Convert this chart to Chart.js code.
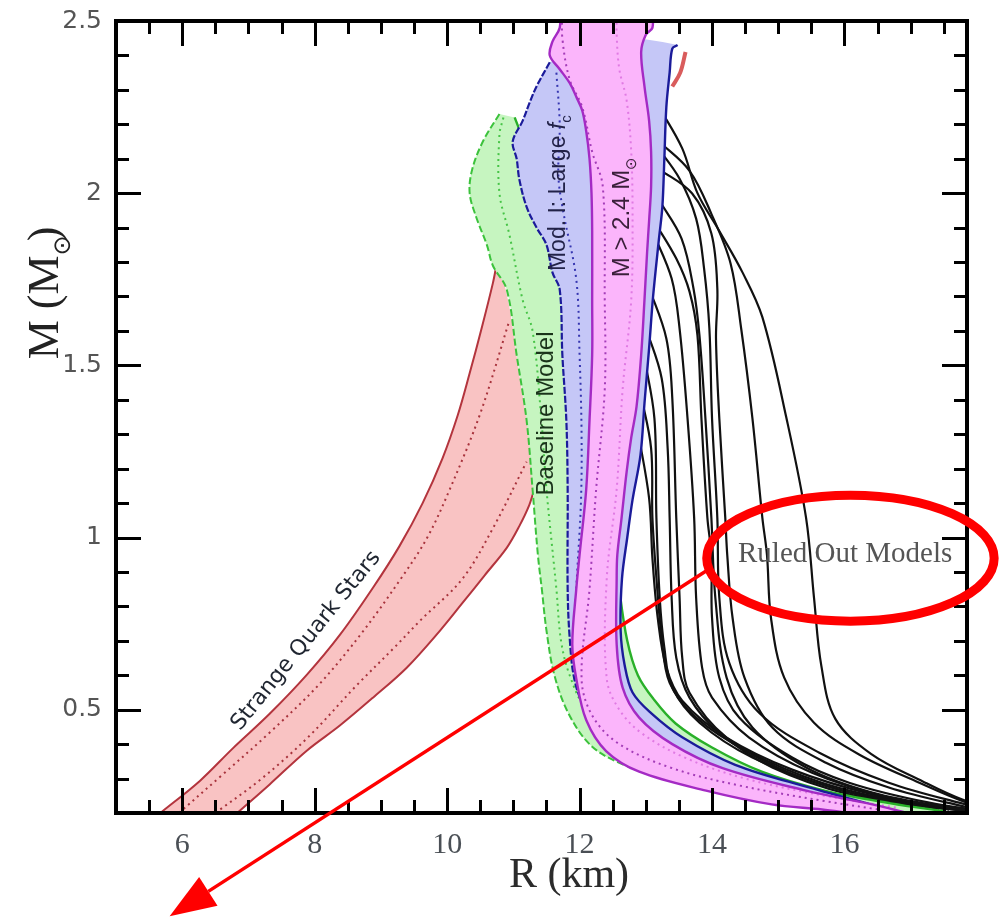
<!DOCTYPE html>
<html>
<head>
<meta charset="utf-8">
<script src="https://cdn.jsdelivr.net/npm/chart.js@4.4.1/dist/chart.umd.min.js"></script>
<style>
  html, body { margin: 0; padding: 0; background: #fff; }
  canvas { display: block; }
</style>
</head>
<body>
<canvas id="mr" width="1001" height="917"></canvas>
<script>
// ============================================
// AXES
// ============================================
const rRange = [5, 17.85];
const mRange = [0.2, 2.5];
const rTicks = [6, 8, 10, 12, 14, 16];
const mTicks = [0.5, 1, 1.5, 2, 2.5];

// ============================================
// MASS-RADIUS BANDS  [R (km), M (Msun)]
// ============================================
// strange quark stars
const quarkUpper = [[5.67,0.2],[6.27,0.294],[6.76,0.387],[7.32,0.488],[7.88,0.601],[8.38,0.717],[8.88,0.854],[9.28,0.975],[9.63,1.10],[9.93,1.23],[10.16,1.355],[10.34,1.477],[10.52,1.607],[10.69,1.738],[10.75,1.796]];
const quarkCap = [[10.75,1.796],[10.92,1.69],[11.1,1.46],[11.26,1.27],[11.32,1.143]];
const quarkLower = [[6.83,0.2],[7.32,0.283],[7.88,0.381],[8.38,0.454],[8.88,0.535],[9.39,0.622],[9.89,0.729],[10.22,0.807],[10.57,0.891],[10.9,0.97],[11.09,1.033],[11.24,1.094],[11.32,1.143]];
const quarkMid1 = [[5.95,0.2],[6.6,0.31],[7.3,0.43],[8.05,0.57],[8.7,0.72],[9.3,0.88],[9.7,1.0],[10.04,1.14],[10.5,1.36],[10.94,1.63]];
const quarkMid2 = [[6.5,0.2],[7.2,0.30],[7.9,0.42],[8.63,0.57],[9.2,0.68],[9.6,0.76],[10.23,0.88],[10.7,1.03],[11.2,1.22]];

// baseline model
const baseLeft = [[10.79,2.23],[10.54,2.15],[10.38,2.07],[10.34,2.0],[10.44,1.93],[10.6,1.85],[10.69,1.79],[10.9,1.72],[11.05,1.53],[11.2,1.34],[11.29,1.14],[11.37,0.95],[11.43,0.85],[11.5,0.73],[11.62,0.60],[11.83,0.49],[12.15,0.40],[12.55,0.35],[13.3,0.30],[14.5,0.26],[15.8,0.23],[16.8,0.2]];
const baseRight = [[11.02,2.22],[11.15,2.15],[11.3,2.0],[11.6,1.8],[11.9,1.6],[12.2,1.4],[12.45,1.1],[12.6,0.85],[12.72,0.70],[12.88,0.6],[13.12,0.53],[13.45,0.46],[14.0,0.39],[14.75,0.32],[15.7,0.265],[16.7,0.228],[17.5,0.205]];
const baseMid = [[10.85,2.22],[10.79,2.17],[10.79,2.0],[10.94,1.88],[11.14,1.69],[11.29,1.6],[11.42,1.35],[11.5,1.14],[11.65,0.85],[11.72,0.7],[11.85,0.6],[12.1,0.5],[12.6,0.41],[13.4,0.33],[14.5,0.27],[15.7,0.23],[16.6,0.205]];

// model I
const modLeft = [[11.55,2.38],[11.35,2.31],[11.24,2.26],[11.14,2.21],[10.99,2.15],[11.05,2.10],[11.09,2.04],[11.2,1.96],[11.35,1.90],[11.5,1.85],[11.59,1.77],[11.7,1.72],[11.74,1.53],[11.80,1.34],[11.82,1.14],[11.82,0.85],[11.85,0.71],[11.92,0.59],[12.07,0.51],[12.45,0.42],[13.05,0.35],[14.11,0.27],[15.32,0.23],[16.37,0.2]];
const modRight = [[13.48,2.43],[13.4,2.42],[13.36,2.35],[13.31,2.25],[13.28,2.1],[13.25,1.96],[13.2,1.87],[13.11,1.70],[13.05,1.55],[12.98,1.39],[12.92,1.24],[12.8,1.11],[12.72,1.0],[12.64,0.88],[12.62,0.73],[12.68,0.63],[12.8,0.55],[13.08,0.49],[13.55,0.42],[14.35,0.34],[15.45,0.275],[16.5,0.22],[16.9,0.2]];
const modTop = [[12.5,2.46]];
const modMid = [[11.65,2.35],[11.7,2.2],[11.68,2.05],[11.75,1.95],[11.95,1.75],[12.0,1.53],[12.03,1.3],[12.02,1.1],[11.95,0.85],[11.92,0.7],[11.98,0.6],[12.2,0.5],[12.7,0.41],[13.5,0.34],[14.6,0.28],[15.8,0.235],[16.6,0.205]];

// M > 2.4 Msun
const massLeft = [[11.70,2.53],[11.70,2.48],[11.59,2.44],[11.55,2.40],[11.70,2.36],[11.85,2.32],[11.95,2.28],[12.04,2.24],[12.10,2.18],[12.15,2.1],[12.18,2.0],[12.19,1.89],[12.19,1.69],[12.19,1.53],[12.15,1.34],[12.1,1.14],[12.0,0.95],[11.95,0.85],[11.89,0.69],[11.95,0.59],[12.1,0.47],[12.4,0.38],[12.9,0.32],[13.91,0.265],[14.9,0.225],[15.66,0.21],[16.07,0.2]];
const massRight = [[13.1,2.53],[13.1,2.48],[13.0,2.46],[12.93,2.41],[12.98,2.31],[13.05,2.21],[13.08,2.12],[13.08,2.02],[13.05,1.92],[13.02,1.83],[12.98,1.69],[12.93,1.53],[12.86,1.38],[12.78,1.29],[12.71,1.19],[12.63,1.05],[12.57,0.95],[12.56,0.88],[12.56,0.69],[12.65,0.564],[12.9,0.477],[13.4,0.40],[14.16,0.33],[15.42,0.265],[16.42,0.225],[16.95,0.2]];
const massMid1 = [[11.74,2.53],[11.74,2.45],[11.85,2.33],[12.04,2.25],[12.19,2.12],[12.35,2.02],[12.38,1.69],[12.38,1.43],[12.25,1.14],[12.15,0.85],[12.03,0.59],[12.2,0.48],[12.6,0.40],[13.4,0.33],[14.41,0.28],[15.66,0.236],[16.52,0.21]];
const massMid2 = [[12.56,2.53],[12.56,2.46],[12.6,2.36],[12.71,2.27],[12.78,2.12],[12.8,1.93],[12.78,1.69],[12.65,1.43],[12.56,1.14],[12.41,0.88],[12.41,0.59],[12.6,0.50],[12.95,0.43],[13.6,0.36],[14.5,0.30],[15.7,0.25],[16.8,0.215]];
const redTip = [[13.6,2.41],[13.52,2.35],[13.4,2.31]];

// ruled-out equations of state
const ruledOut = [
  [[13.2,2.25],[13.55,2.13],[13.78,2.0],[14.11,1.89],[14.46,1.77],[14.76,1.64],[15.12,1.35],[15.42,1.057],[15.54,0.825],[15.65,0.628],[15.86,0.474],[16.4,0.372],[17.19,0.291],[17.78,0.239],[18.33,0.21]],
  [[13.2,2.15],[13.66,2.065],[13.99,1.94],[14.28,1.796],[14.44,1.607],[14.61,1.346],[14.76,1.057],[14.83,0.949],[14.89,0.767],[15.09,0.593],[15.54,0.462],[16.22,0.37],[17.13,0.288],[17.85,0.23],[18.33,0.207]],
  [[13.2,2.07],[13.7,1.999],[13.99,1.883],[14.08,1.723],[14.06,1.578],[14.11,1.346],[14.2,1.057],[14.23,0.949],[14.31,0.767],[14.49,0.593],[14.91,0.448],[15.72,0.346],[16.67,0.274],[17.73,0.222],[18.33,0.2]],
  [[13.2,1.98],[13.54,1.868],[13.72,1.723],[13.81,1.587],[13.9,1.346],[13.99,1.057],[14.05,0.825],[14.22,0.593],[14.61,0.448],[15.42,0.332],[16.42,0.259],[17.58,0.216],[18.33,0.2]],
  [[13.12,1.92],[13.46,1.81],[13.66,1.714],[13.78,1.587],[13.84,1.346],[13.93,1.057],[13.99,0.949],[14.0,0.767],[14.11,0.593],[14.41,0.477],[15.21,0.361],[16.07,0.288],[17.28,0.23],[18.33,0.2]],
  [[13.1,1.89],[13.39,1.752],[13.51,1.607],[13.63,1.346],[13.73,1.057],[13.76,0.825],[13.85,0.622],[14.0,0.535],[14.56,0.419],[15.51,0.317],[16.67,0.245],[17.73,0.21]],
  [[13.04,1.73],[13.31,1.578],[13.4,1.404],[13.46,1.057],[13.51,0.825],[13.55,0.651],[13.66,0.549],[14.22,0.419],[15.17,0.317],[16.37,0.245],[17.58,0.21]],
  [[13.0,1.61],[13.24,1.462],[13.33,1.259],[13.36,1.057],[13.39,0.825],[13.46,0.651],[13.66,0.535],[14.11,0.433],[14.91,0.332],[16.07,0.254],[17.43,0.21]],
  [[12.96,1.54],[13.13,1.346],[13.16,1.057],[13.21,0.825],[13.28,0.68],[13.4,0.564],[13.81,0.462],[14.61,0.361],[15.81,0.274],[17.13,0.222],[18.2,0.2]],
  [[12.92,1.42],[13.08,1.259],[13.1,1.057],[13.16,0.883],[13.24,0.709],[13.36,0.578],[13.76,0.477],[14.52,0.381],[15.66,0.288],[16.93,0.23],[18.1,0.2]],
  [[12.88,1.31],[13.05,1.114],[13.1,0.94],[13.18,0.767],[13.31,0.622],[13.55,0.526],[14.22,0.419],[15.21,0.326],[16.42,0.254],[17.58,0.213],[18.3,0.2]],
  [[13.15,2.14],[13.51,2.042],[13.76,1.926],[13.88,1.781],[13.96,1.607],[14.0,1.346],[14.08,1.057],[14.11,0.825],[14.26,0.636],[14.71,0.491],[15.62,0.375],[16.67,0.288],[17.73,0.23],[18.33,0.205]]
];

// annotation anchors, in data units
const quarkLabelAt = [7.87, 0.70];
const baseLabelAt = [11.5, 1.36];
const modLabelAt = [11.69, 2.0];
const massLabelAt = [12.65, 1.93];
const ruledLabelAt = [16.01, 0.95];
const ringCenter = [16.09, 0.94];
const ringRadius = [2.17, 0.183];
const arrowFrom = [13.91, 0.903];
const arrowTo = [5.81, -0.1];

// ============================================
// DATASETS
// ============================================
const toPts = arr => arr.map(([r, m]) => ({ x: r, y: m }));

function lineSet(pts, color, width, dash, order) {
    return {
        data: toPts(pts), showLine: true, borderColor: color, borderWidth: width,
        borderDash: dash || [], pointRadius: 0, fill: false, tension: 0.35, order
    };
}

function areaSet(pts, color, order) {
    return {
        data: toPts(pts), showLine: true, borderWidth: 0, borderColor: 'rgba(0,0,0,0)',
        backgroundColor: color, pointRadius: 0, fill: 'shape', tension: 0.35, order
    };
}

const rev = a => a.slice().reverse();

const datasets = [
    ...ruledOut.map(c => lineSet(c, '#111111', 2.2, null, 100)),

    areaSet([...quarkUpper, ...quarkCap.slice(1), ...rev(quarkLower).slice(1)], '#f9c3c3', 90),
    lineSet(quarkUpper, '#b3343d', 2, null, 89),
    lineSet(quarkLower, '#b3343d', 2, null, 89),
    lineSet(quarkMid1, '#a8333c', 2, [2, 4], 89),
    lineSet(quarkMid2, '#a8333c', 2, [2, 4], 89),

    areaSet([...baseLeft, ...rev(baseRight)], '#c6f5c0', 80),
    lineSet(baseLeft, '#3cc23c', 2, [7, 3], 79),
    lineSet(baseRight, '#29b029', 2.4, null, 79),
    lineSet(baseMid, '#47c447', 2, [2, 4], 79),

    areaSet([...modLeft, ...rev(modRight), ...modTop], '#c5c7f7', 70),
    lineSet(modLeft, '#1b1b9a', 2.2, [7, 2], 69),
    lineSet(modRight, '#1b1b9a', 2.4, null, 69),
    lineSet(modMid, '#3535b0', 2, [2, 4], 69),

    areaSet([...massLeft, ...rev(massRight)], '#fbb5fb', 60),
    lineSet(massLeft, '#a42ac4', 2.4, null, 59),
    lineSet(massRight, '#a42ac4', 2.4, null, 59),
    lineSet(massMid1, '#a43cb8', 2, [2, 4], 59),
    lineSet(massMid2, '#e07ae3', 2, [2, 4], 59),
    lineSet(redTip, '#d95c5c', 4, null, 58)
];

// ============================================
// FRAME, LABELS, ANNOTATIONS
// ============================================
function drawRich(ctx, parts, x, y, angle, baseline) {
    ctx.save();
    ctx.translate(x, y);
    ctx.rotate(angle);
    ctx.textBaseline = baseline || 'middle';
    let total = 0;
    parts.forEach(p => {
        ctx.font = p.font;
        p.w = ctx.measureText(p.text).width * (p.adv || 1);
        total += p.w;
    });
    let cx = -total / 2;
    parts.forEach(p => {
        ctx.font = p.font;
        ctx.fillStyle = p.color;
        ctx.fillText(p.text, cx, p.dy || 0);
        cx += p.w;
    });
    ctx.restore();
}

const framePlugin = {
    id: 'frame',
    afterDatasetsDraw(chart) {
        const { ctx, chartArea: a, scales: { x, y } } = chart;
        const px = v => x.getPixelForValue(v);
        const py = v => y.getPixelForValue(v);
        const up = -Math.PI / 2;

        // in-plot labels
        drawRich(ctx, [{ text: 'Strange Quark Stars', font: '22px "DejaVu Sans"', color: '#1f2530' }],
            px(quarkLabelAt[0]), py(quarkLabelAt[1]), -51 * Math.PI / 180);
        drawRich(ctx, [{ text: 'Baseline Model', font: '24px "Liberation Sans"', color: '#1a331a' }],
            px(baseLabelAt[0]), py(baseLabelAt[1]), up);
        drawRich(ctx, [
            { text: 'Mod. I: Large ', font: '23px "Liberation Sans"', color: '#222248' },
            { text: 'f', font: 'italic 23px "Liberation Sans"', color: '#222248' },
            { text: 'c', font: '15px "Liberation Sans"', color: '#222248', dy: 8 }
        ], px(modLabelAt[0]), py(modLabelAt[1]), up);
        drawRich(ctx, [
            { text: 'M > 2.4 M', font: '24px "Liberation Sans"', color: '#3a1f3a' },
            { text: '\u2299', font: '15px "DejaVu Sans"', color: '#3a1f3a', dy: 9 }
        ], px(massLabelAt[0]), py(massLabelAt[1]), up);
        drawRich(ctx, [{ text: 'Ruled Out Models', font: '29px "Liberation Serif"', color: '#555555' }],
            px(ruledLabelAt[0]), py(ruledLabelAt[1]), 0);

        // frame with inward ticks on all four sides
        ctx.save();
        ctx.strokeStyle = '#000';
        ctx.lineCap = 'butt';
        ctx.lineWidth = 3;
        ctx.beginPath();
        for (let i = Math.ceil(rRange[0] * 2); i / 2 < rRange[1]; i++) {
            const r = i / 2;
            const len = (r % 2 === 0) ? 25 : 13;
            const xx = Math.round(px(r)) + 0.5;
            ctx.moveTo(xx, a.bottom); ctx.lineTo(xx, a.bottom - len);
            ctx.moveTo(xx, a.top); ctx.lineTo(xx, a.top + len);
        }
        for (let i = 3; i < 25; i++) {
            const len = (i % 5 === 0) ? 25 : 13;
            const yy = Math.round(py(i / 10)) + 0.5;
            ctx.moveTo(a.left, yy); ctx.lineTo(a.left + len, yy);
            ctx.moveTo(a.right, yy); ctx.lineTo(a.right - len, yy);
        }
        ctx.stroke();
        ctx.lineWidth = 4;
        ctx.strokeRect(a.left, a.top, a.right - a.left, a.bottom - a.top);
        ctx.restore();

        // axis titles
        ctx.save();
        ctx.fillStyle = '#2b2b2b';
        ctx.font = '42px "Liberation Serif"';
        ctx.textAlign = 'center';
        ctx.textBaseline = 'middle';
        ctx.fillText('R (km)', 569, 876);
        ctx.restore();
        drawRich(ctx, [
            { text: 'M (M', font: '44px "Liberation Serif"', color: '#222' },
            { text: '\u2299', font: '24px "DejaVu Sans"', color: '#222', dy: 12, adv: 0.7 },
            { text: ')', font: '44px "Liberation Serif"', color: '#222' }
        ], 58, 293, up, 'alphabetic');
    },
    afterDraw(chart) {
        const { ctx, scales: { x, y } } = chart;
        const px = v => x.getPixelForValue(v);
        const py = v => y.getPixelForValue(v);
        ctx.save();
        ctx.strokeStyle = '#ff0000';
        ctx.fillStyle = '#ff0000';

        // ring round the ruled-out label
        const cx = px(ringCenter[0]), cy = py(ringCenter[1]);
        const rx = px(ringCenter[0] + ringRadius[0]) - cx;
        const ry = cy - py(ringCenter[1] + ringRadius[1]);
        ctx.lineWidth = 9;
        ctx.beginPath();
        ctx.ellipse(cx, cy, rx, ry, 0, 0, Math.PI * 2);
        ctx.stroke();

        // arrow pointing off the plot
        const x0 = px(arrowFrom[0]), y0 = py(arrowFrom[1]);
        const x1 = px(arrowTo[0]), y1 = py(arrowTo[1]);
        const ang = Math.atan2(y1 - y0, x1 - x0);
        const head = 46, half = 17;
        const bx = x1 - head * Math.cos(ang), by = y1 - head * Math.sin(ang);
        ctx.lineWidth = 3.5;
        ctx.beginPath();
        ctx.moveTo(x0, y0);
        ctx.lineTo(bx, by);
        ctx.stroke();
        ctx.beginPath();
        ctx.moveTo(x1, y1);
        ctx.lineTo(bx + half * Math.sin(ang), by - half * Math.cos(ang));
        ctx.lineTo(bx - half * Math.sin(ang), by + half * Math.cos(ang));
        ctx.closePath();
        ctx.fill();
        ctx.restore();
    }
};

// ============================================
// CHART
// ============================================
new Chart(document.getElementById('mr'), {
    type: 'scatter',
    data: { datasets },
    options: {
        responsive: false,
        animation: false,
        layout: { padding: { left: 0, right: 34, top: 21, bottom: 0 } },
        plugins: { legend: { display: false }, tooltip: { enabled: false } },
        scales: {
            x: {
                type: 'linear', min: rRange[0], max: rRange[1],
                grid: { display: false }, border: { display: false },
                afterBuildTicks: s => { s.ticks = rTicks.map(v => ({ value: v })); },
                afterFit: s => { s.height = 104; },
                ticks: {
                    font: { family: 'Liberation Serif', size: 30 }, color: '#4a4f55',
                    padding: 6, maxRotation: 0, autoSkip: false, callback: v => String(v)
                }
            },
            y: {
                type: 'linear', min: mRange[0], max: mRange[1],
                grid: { display: false }, border: { display: false },
                afterBuildTicks: s => { s.ticks = mTicks.map(v => ({ value: v })); },
                afterFit: s => { s.width = 116; },
                ticks: {
                    font: { family: 'DejaVu Sans', size: 25 }, color: '#555555',
                    padding: 6, autoSkip: false, callback: v => String(v)
                }
            }
        }
    },
    plugins: [framePlugin]
});
</script>
</body>
</html>
